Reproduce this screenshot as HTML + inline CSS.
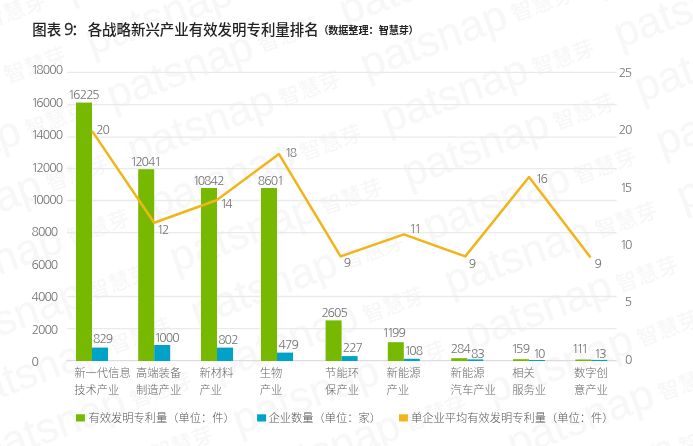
<!DOCTYPE html>
<html lang="zh-CN">
<head>
<meta charset="utf-8">
<title>图表 9：各战略新兴产业有效发明专利量排名</title>
<style>
html,body{margin:0;padding:0;background:#fff;}
body{width:693px;height:446px;overflow:hidden;position:relative;font-family:"Liberation Sans","Noto Sans CJK SC",sans-serif;}
svg{position:absolute;left:0;top:0;display:block;}
text{font-family:"Liberation Sans","Noto Sans CJK SC",sans-serif;}
.wm{fill:#f7f7f7;stroke:#f7f7f7;stroke-width:0.25px;font-size:43px;font-weight:400;letter-spacing:0;}
.wmc{font-size:21.3px;font-weight:500;letter-spacing:0.3px;stroke:none;}
.title{font-size:14.45px;font-weight:500;fill:#222;}
.t9{font-family:"NanumGothic","Liberation Sans",sans-serif;font-size:15.5px;font-weight:400;stroke:#222;stroke-width:0.35px;}
.sub{font-size:10.1px;font-weight:700;fill:#222;}
.ax{font-size:12.2px;fill:#757575;font-family:"NanumGothic","Liberation Sans",sans-serif;}
.dl{font-size:12.2px;fill:#757575;font-family:"NanumGothic","Liberation Sans",sans-serif;}
.cat{font-size:11.3px;fill:#666;font-weight:300;}
.lg{font-size:11.25px;fill:#555;font-weight:300;}
.grid{stroke:#eaeaea;stroke-width:1.3;}
.axis0{stroke:#dddddd;stroke-width:1.2;}
</style>
</head>
<body>
<svg width="693" height="446" viewBox="0 0 693 446">
<rect x="0" y="0" width="693" height="446" fill="#ffffff"/>

<g id="wm">
<text class="wm" transform="translate(-203.9,-21.7) rotate(-20.1)"><tspan class="wme">patsnap</tspan><tspan class="wmc" dx="6" dy="-3">智慧芽</tspan></text>
<text class="wm" transform="translate(-182.9,32.5) rotate(-20.1)"><tspan class="wme">patsnap</tspan><tspan class="wmc" dx="6" dy="-3">智慧芽</tspan></text>
<text class="wm" transform="translate(-161.9,86.6) rotate(-20.1)"><tspan class="wme">patsnap</tspan><tspan class="wmc" dx="6" dy="-3">智慧芽</tspan></text>
<text class="wm" transform="translate(70.6,1.7) rotate(-20.1)"><tspan class="wme">patsnap</tspan><tspan class="wmc" dx="6" dy="-3">智慧芽</tspan></text>
<text class="wm" transform="translate(-140.9,140.8) rotate(-20.1)"><tspan class="wme">patsnap</tspan><tspan class="wmc" dx="6" dy="-3">智慧芽</tspan></text>
<text class="wm" transform="translate(91.6,55.8) rotate(-20.1)"><tspan class="wme">patsnap</tspan><tspan class="wmc" dx="6" dy="-3">智慧芽</tspan></text>
<text class="wm" transform="translate(324.2,-29.1) rotate(-20.1)"><tspan class="wme">patsnap</tspan><tspan class="wmc" dx="6" dy="-3">智慧芽</tspan></text>
<text class="wm" transform="translate(-119.9,194.9) rotate(-20.1)"><tspan class="wme">patsnap</tspan><tspan class="wmc" dx="6" dy="-3">智慧芽</tspan></text>
<text class="wm" transform="translate(112.6,110.0) rotate(-20.1)"><tspan class="wme">patsnap</tspan><tspan class="wmc" dx="6" dy="-3">智慧芽</tspan></text>
<text class="wm" transform="translate(345.2,25.0) rotate(-20.1)"><tspan class="wme">patsnap</tspan><tspan class="wmc" dx="6" dy="-3">智慧芽</tspan></text>
<text class="wm" transform="translate(-98.9,249.1) rotate(-20.1)"><tspan class="wme">patsnap</tspan><tspan class="wmc" dx="6" dy="-3">智慧芽</tspan></text>
<text class="wm" transform="translate(133.6,164.1) rotate(-20.1)"><tspan class="wme">patsnap</tspan><tspan class="wmc" dx="6" dy="-3">智慧芽</tspan></text>
<text class="wm" transform="translate(366.2,79.2) rotate(-20.1)"><tspan class="wme">patsnap</tspan><tspan class="wmc" dx="6" dy="-3">智慧芽</tspan></text>
<text class="wm" transform="translate(598.8,-5.8) rotate(-20.1)"><tspan class="wme">patsnap</tspan><tspan class="wmc" dx="6" dy="-3">智慧芽</tspan></text>
<text class="wm" transform="translate(-77.9,303.2) rotate(-20.1)"><tspan class="wme">patsnap</tspan><tspan class="wmc" dx="6" dy="-3">智慧芽</tspan></text>
<text class="wm" transform="translate(154.6,218.3) rotate(-20.1)"><tspan class="wme">patsnap</tspan><tspan class="wmc" dx="6" dy="-3">智慧芽</tspan></text>
<text class="wm" transform="translate(387.2,133.3) rotate(-20.1)"><tspan class="wme">patsnap</tspan><tspan class="wmc" dx="6" dy="-3">智慧芽</tspan></text>
<text class="wm" transform="translate(619.8,48.3) rotate(-20.1)"><tspan class="wme">patsnap</tspan><tspan class="wmc" dx="6" dy="-3">智慧芽</tspan></text>
<text class="wm" transform="translate(-56.9,357.4) rotate(-20.1)"><tspan class="wme">patsnap</tspan><tspan class="wmc" dx="6" dy="-3">智慧芽</tspan></text>
<text class="wm" transform="translate(175.6,272.4) rotate(-20.1)"><tspan class="wme">patsnap</tspan><tspan class="wmc" dx="6" dy="-3">智慧芽</tspan></text>
<text class="wm" transform="translate(408.2,187.5) rotate(-20.1)"><tspan class="wme">patsnap</tspan><tspan class="wmc" dx="6" dy="-3">智慧芽</tspan></text>
<text class="wm" transform="translate(640.8,102.5) rotate(-20.1)"><tspan class="wme">patsnap</tspan><tspan class="wmc" dx="6" dy="-3">智慧芽</tspan></text>
<text class="wm" transform="translate(-35.9,411.5) rotate(-20.1)"><tspan class="wme">patsnap</tspan><tspan class="wmc" dx="6" dy="-3">智慧芽</tspan></text>
<text class="wm" transform="translate(196.6,326.6) rotate(-20.1)"><tspan class="wme">patsnap</tspan><tspan class="wmc" dx="6" dy="-3">智慧芽</tspan></text>
<text class="wm" transform="translate(429.2,241.6) rotate(-20.1)"><tspan class="wme">patsnap</tspan><tspan class="wmc" dx="6" dy="-3">智慧芽</tspan></text>
<text class="wm" transform="translate(661.8,156.6) rotate(-20.1)"><tspan class="wme">patsnap</tspan><tspan class="wmc" dx="6" dy="-3">智慧芽</tspan></text>
<text class="wm" transform="translate(-247.5,550.7) rotate(-20.1)"><tspan class="wme">patsnap</tspan><tspan class="wmc" dx="6" dy="-3">智慧芽</tspan></text>
<text class="wm" transform="translate(-14.9,465.7) rotate(-20.1)"><tspan class="wme">patsnap</tspan><tspan class="wmc" dx="6" dy="-3">智慧芽</tspan></text>
<text class="wm" transform="translate(217.6,380.7) rotate(-20.1)"><tspan class="wme">patsnap</tspan><tspan class="wmc" dx="6" dy="-3">智慧芽</tspan></text>
<text class="wm" transform="translate(450.2,295.8) rotate(-20.1)"><tspan class="wme">patsnap</tspan><tspan class="wmc" dx="6" dy="-3">智慧芽</tspan></text>
<text class="wm" transform="translate(682.8,210.8) rotate(-20.1)"><tspan class="wme">patsnap</tspan><tspan class="wmc" dx="6" dy="-3">智慧芽</tspan></text>
<text class="wm" transform="translate(6.1,519.8) rotate(-20.1)"><tspan class="wme">patsnap</tspan><tspan class="wmc" dx="6" dy="-3">智慧芽</tspan></text>
<text class="wm" transform="translate(238.6,434.9) rotate(-20.1)"><tspan class="wme">patsnap</tspan><tspan class="wmc" dx="6" dy="-3">智慧芽</tspan></text>
<text class="wm" transform="translate(471.2,349.9) rotate(-20.1)"><tspan class="wme">patsnap</tspan><tspan class="wmc" dx="6" dy="-3">智慧芽</tspan></text>
<text class="wm" transform="translate(703.8,264.9) rotate(-20.1)"><tspan class="wme">patsnap</tspan><tspan class="wmc" dx="6" dy="-3">智慧芽</tspan></text>
<text class="wm" transform="translate(259.6,489.0) rotate(-20.1)"><tspan class="wme">patsnap</tspan><tspan class="wmc" dx="6" dy="-3">智慧芽</tspan></text>
<text class="wm" transform="translate(492.2,404.1) rotate(-20.1)"><tspan class="wme">patsnap</tspan><tspan class="wmc" dx="6" dy="-3">智慧芽</tspan></text>
<text class="wm" transform="translate(280.6,543.2) rotate(-20.1)"><tspan class="wme">patsnap</tspan><tspan class="wmc" dx="6" dy="-3">智慧芽</tspan></text>
<text class="wm" transform="translate(513.2,458.2) rotate(-20.1)"><tspan class="wme">patsnap</tspan><tspan class="wmc" dx="6" dy="-3">智慧芽</tspan></text>
<text class="wm" transform="translate(534.2,512.4) rotate(-20.1)"><tspan class="wme">patsnap</tspan><tspan class="wmc" dx="6" dy="-3">智慧芽</tspan></text>
</g>
<g id="grid">
<line class="grid" x1="67.3" x2="616.7" y1="72.40" y2="72.40"/>
<line class="grid" x1="67.3" x2="616.7" y1="104.60" y2="104.60"/>
<line class="grid" x1="67.3" x2="616.7" y1="137.20" y2="137.20"/>
<line class="grid" x1="67.3" x2="616.7" y1="168.70" y2="168.70"/>
<line class="grid" x1="67.3" x2="616.7" y1="200.50" y2="200.50"/>
<line class="grid" x1="67.3" x2="616.7" y1="232.60" y2="232.60"/>
<line class="grid" x1="67.3" x2="616.7" y1="296.50" y2="296.50"/>
<line class="grid" x1="67.3" x2="616.7" y1="328.60" y2="328.60"/>
<line class="axis0" x1="66.7" x2="616.7" y1="360.7" y2="360.7"/>
</g>
<g id="yaxis-left">
<text class="ax" x="31.28 36.29 42.74 49.19 55.64" y="74.30">18000</text>
<text class="ax" x="31.28 36.25 42.74 49.19 55.64" y="106.70">16000</text>
<text class="ax" x="31.28 36.32 42.74 49.19 55.64" y="139.10">14000</text>
<text class="ax" x="31.28 36.52 42.74 49.19 55.64" y="171.50">12000</text>
<text class="ax" x="31.28 36.29 42.74 49.19 55.64" y="203.90">10000</text>
<text class="ax" x="31.49 37.94 44.39 50.84" y="236.30">8000</text>
<text class="ax" x="31.45 37.94 44.39 50.84" y="268.70">6000</text>
<text class="ax" x="31.52 37.94 44.39 50.84" y="301.10">4000</text>
<text class="ax" x="31.72 37.94 44.39 50.84" y="333.50">2000</text>
<text class="ax" x="31.49" y="365.90">0</text>
</g>
<g id="yaxis-right">
<text class="ax" x="618.77 624.86" y="77.00">25</text>
<text class="ax" x="618.77 624.99" y="134.32">20</text>
<text class="ax" x="619.98 624.86" y="191.64">15</text>
<text class="ax" x="619.98 624.99" y="248.96">10</text>
<text class="ax" x="624.86" y="306.28">5</text>
<text class="ax" x="624.99" y="363.60">0</text>
</g>
<g id="bars">
<rect x="76.00" y="102.60" width="16.0" height="258.40" fill="#76b900"/>
<rect x="92.00" y="347.60" width="16.0" height="13.40" fill="#00a3c7"/>
<rect x="138.20" y="169.20" width="16.0" height="191.80" fill="#76b900"/>
<rect x="154.20" y="345.00" width="16.0" height="16.00" fill="#00a3c7"/>
<rect x="201.00" y="188.00" width="16.0" height="173.00" fill="#76b900"/>
<rect x="217.00" y="347.60" width="16.0" height="13.40" fill="#00a3c7"/>
<rect x="261.00" y="188.00" width="16.0" height="173.00" fill="#76b900"/>
<rect x="277.00" y="352.60" width="16.0" height="8.40" fill="#00a3c7"/>
<rect x="325.60" y="320.40" width="16.0" height="40.60" fill="#76b900"/>
<rect x="341.60" y="356.10" width="16.0" height="4.90" fill="#00a3c7"/>
<rect x="387.80" y="342.20" width="16.0" height="18.80" fill="#76b900"/>
<rect x="403.80" y="358.80" width="16.0" height="2.20" fill="#00a3c7"/>
<rect x="451.30" y="358.20" width="16.0" height="2.80" fill="#76b900"/>
<rect x="467.30" y="359.40" width="16.0" height="1.60" fill="#00a3c7"/>
<rect x="513.00" y="359.20" width="16.0" height="1.80" fill="#76b900"/>
<rect x="529.00" y="360.00" width="16.0" height="1.00" fill="#00a3c7"/>
<rect x="575.30" y="359.50" width="16.0" height="1.50" fill="#76b900"/>
<rect x="591.30" y="359.90" width="16.0" height="1.10" fill="#00a3c7"/>
</g>
<polyline points="92.00,130.90 154.20,222.80 216.50,200.20 279.00,154.10 340.60,256.40 403.80,234.40 465.30,256.40 529.00,177.00 590.60,257.50" fill="none" stroke="#f1b419" stroke-width="2.5" stroke-linejoin="round" stroke-linecap="butt"/>
<g id="labels">
<text class="dl" x="68.08 73.05 79.77 86.22 92.31" y="98.80">16225</text>
<text class="dl" x="130.16 135.40 141.62 148.10 154.31" y="165.90">12041</text>
<text class="dl" x="192.63 197.64 204.09 210.57 217.22" y="184.60">10842</text>
<text class="dl" x="257.81 264.22 270.72 276.96" y="184.50">8601</text>
<text class="dl" x="321.42 327.60 334.09 340.41" y="317.00">2605</text>
<text class="dl" x="382.23 387.03 392.07 398.52" y="337.00">1199</text>
<text class="dl" x="450.75 456.96 463.45" y="353.00">284</text>
<text class="dl" x="511.23 516.11 522.72" y="353.40">159</text>
<text class="dl" x="571.68 576.48 581.28" y="353.10">111</text>
<text class="dl" x="92.91 99.60 105.85" y="343.30">829</text>
<text class="dl" x="154.26 159.27 165.72 172.17" y="342.20">1000</text>
<text class="dl" x="218.16 224.62 231.30" y="344.00">802</text>
<text class="dl" x="278.55 285.06 291.45" y="349.00">479</text>
<text class="dl" x="342.85 349.30 355.61" y="352.30">227</text>
<text class="dl" x="404.28 409.29 415.74" y="355.40">108</text>
<text class="dl" x="470.94 477.57" y="358.00">83</text>
<text class="dl" x="532.96 537.97" y="358.20">10</text>
<text class="dl" x="594.11 599.30" y="357.70">13</text>
<text class="dl" x="96.37 102.59" y="134.00">20</text>
<text class="dl" x="156.71 161.95" y="234.10">12</text>
<text class="dl" x="220.16 225.20" y="208.00">14</text>
<text class="dl" x="284.76 289.76" y="156.50">18</text>
<text class="dl" x="343.75" y="267.40">9</text>
<text class="dl" x="409.33 414.13" y="232.80">11</text>
<text class="dl" x="468.70" y="267.70">9</text>
<text class="dl" x="535.51 540.47" y="183.00">16</text>
<text class="dl" x="594.55" y="267.50">9</text>
</g>
<g id="cats">
<text class="cat" x="74.20" y="377.2">新一代信息</text>
<text class="cat" x="74.20" y="394.4">技术产业</text>
<text class="cat" x="136.00" y="377.2">高端装备</text>
<text class="cat" x="136.00" y="394.4">制造产业</text>
<text class="cat" x="199.50" y="377.2">新材料</text>
<text class="cat" x="199.50" y="394.4">产业</text>
<text class="cat" x="259.80" y="377.2">生物</text>
<text class="cat" x="259.80" y="394.4">产业</text>
<text class="cat" x="325.10" y="377.2">节能环</text>
<text class="cat" x="325.10" y="394.4">保产业</text>
<text class="cat" x="386.60" y="377.2">新能源</text>
<text class="cat" x="386.60" y="394.4">产业</text>
<text class="cat" x="450.60" y="377.2">新能源</text>
<text class="cat" x="450.60" y="394.4">汽车产业</text>
<text class="cat" x="512.20" y="377.2">相关</text>
<text class="cat" x="512.20" y="394.4">服务业</text>
<text class="cat" x="573.90" y="377.2">数字创</text>
<text class="cat" x="573.90" y="394.4">意产业</text>
</g>
<g id="legend">
<rect x="76.0" y="414.3" width="8.9" height="7.2" fill="#76b900"/><text class="lg" x="88.4" y="422.3">有效发明专利量（单位：件）</text>
<rect x="257.1" y="414.3" width="9.0" height="7.2" fill="#00a3c7"/><text class="lg" x="268.6" y="422.3">企业数量（单位：家）</text>
<rect x="399" y="414.3" width="8.9" height="7.2" fill="#f1b419"/><text class="lg" x="410.9" y="422.3">单企业平均有效发明专利量（单位：件）</text>
</g>
<text class="title" y="34.9"><tspan x="32.3">图表 </tspan><tspan class="t9" x="63.9">9</tspan><tspan x="71.3">：</tspan><tspan x="87.7">各战略新兴产业有效发明专利量排名</tspan></text>
<text class="sub" y="33.7"><tspan x="318.6">（</tspan><tspan x="328.2">数据整理：智慧芽</tspan><tspan x="408.6">）</tspan></text>
</svg>
</body>
</html>
